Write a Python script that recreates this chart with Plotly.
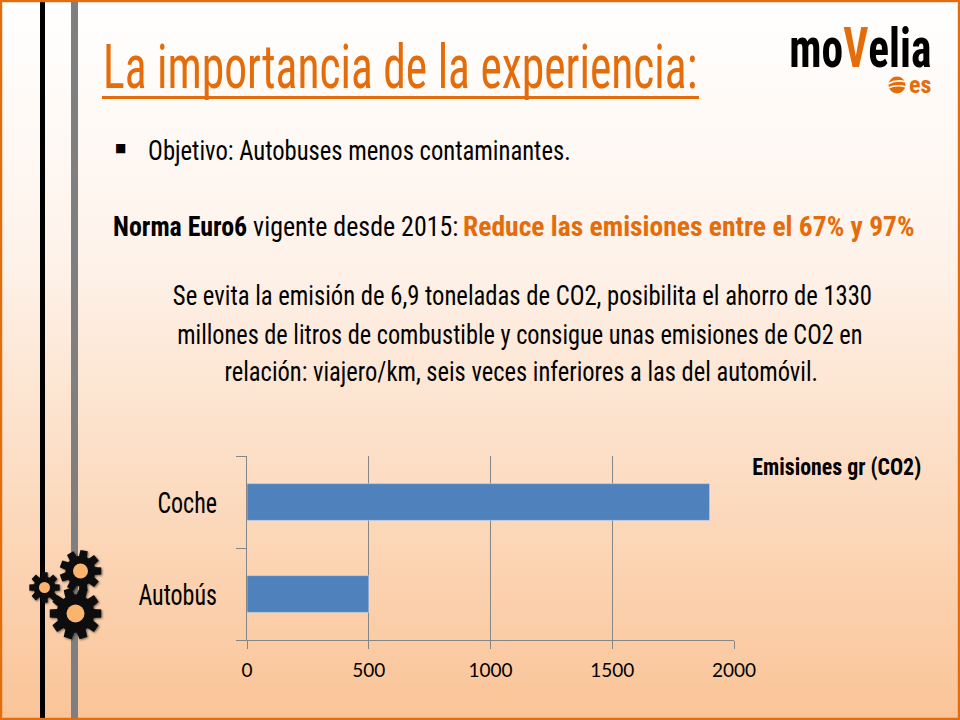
import base64, json, math
import plotly.graph_objects as go

categories = ["Autobús", "Coche"]
values = [500, 1900]
x_ticks = [0, 500, 1000, 1500, 2000]

W, H = 960, 720
L, R, T, B = 247, 734, 456, 640
ORANGE = "#E46C0A"
NARROW = "Roboto Condensed"


def gear(cx, cy, r_out, r_in, hole, teeth):
    pts = []
    step = 2 * math.pi / teeth
    for i in range(teeth):
        a = i * step
        for da, r in ((-0.30, r_in), (-0.19, r_out), (0.19, r_out), (0.30, r_in)):
            t = a + da * step * 1.3
            pts.append(f"{cx + r * math.cos(t):.1f},{cy + r * math.sin(t):.1f}")
    return (f'<polygon points="{" ".join(pts)}" fill="#0a0a0a" filter="url(#s)"/>'
            f'<circle cx="{cx}" cy="{cy}" r="{hole}" fill="#FBB46E"/>')


svg = f'''<svg xmlns="http://www.w3.org/2000/svg" width="{W}" height="{H}" viewBox="0 0 {W} {H}">
<defs><linearGradient id="g" x1="0" y1="0" x2="0" y2="1">
<stop offset="0" stop-color="#FFFFFF"/><stop offset="0.35" stop-color="#FEF3EB"/><stop offset="1" stop-color="#FAC497"/>
</linearGradient>
<filter id="s" x="-20%" y="-20%" width="150%" height="150%"><feDropShadow dx="1" dy="1" stdDeviation="1.2" flood-opacity="0.55"/></filter></defs>
<rect width="{W}" height="{H}" fill="url(#g)"/>
<rect x="40" y="0" width="5" height="{H}" fill="#000"/>
<rect x="71" y="0" width="7" height="{H}" fill="#7F7F7F"/>
{gear(44.5, 587.5, 15.5, 11, 5.5, 8)}{gear(80.5, 571, 21, 15, 7.5, 9)}{gear(75.5, 613.5, 26, 19, 9, 10)}
<circle cx="897" cy="85" r="8.5" fill="{ORANGE}"/>
<path d="M888 84 Q896 79 906 82 M888 88 Q897 84 906 87" stroke="#FFF6EE" stroke-width="1.6" fill="none"/>
<rect x="102" y="96" width="597" height="3" fill="{ORANGE}"/>
<rect x="1" y="1" width="{W-2}" height="{H-2}" fill="none" stroke="{ORANGE}" stroke-width="2.4"/>
</svg>'''
uri = "data:image/svg+xml;base64," + base64.b64encode(svg.encode()).decode()

fig = go.Figure(go.Bar(x=values, y=categories, orientation="h", marker_color="#4F81BD", width=0.4))
PW, PH = R - L, B - T
scales = []


def note(text, x, y, size, color="#000", anchor="center", family=NARROW, sx=1.0):
    scales.append([sx, anchor])
    fig.add_annotation(text=text, x=(x - L) / PW, y=(B - y) / PH, xref="paper", yref="paper",
                       showarrow=False, xanchor=anchor, yanchor="middle", borderpad=0, borderwidth=0,
                       font=dict(family=family, size=size, color=color))


note("La importancia de la experiencia:", 103, 67, 62, ORANGE, "left", sx=0.735)
note("■", 120, 148, 12, "#000", "center", "DejaVu Sans")
note("Objetivo: Autobuses menos contaminantes.", 148, 150, 28, "#000", "left", sx=0.88)
note("<b>Norma Euro6</b> vigente desde 2015:", 113, 227, 27, "#000", "left", sx=0.96)
note("<b>Reduce las emisiones entre el 67% y 97%</b>", 463, 227, 27, ORANGE, "left", sx=1.02)
note("Se evita la emisión de 6,9 toneladas de CO2, posibilita el ahorro de 1330", 522.5, 295, 28, sx=0.88)
note("millones de litros de combustible y consigue unas emisiones de CO2 en", 520, 334, 28, sx=0.868)
note("relación: viajero/km, seis veces inferiores a las del automóvil.", 521, 371, 28, sx=0.875)
note("<b>Emisiones gr (CO2)</b>", 837, 467, 24, sx=0.91)
note(f'<b>mo<span style="color:{ORANGE}">V</span>elia</b>', 860.5, 48, 55, sx=0.79)
note("<b>es</b>", 920, 85, 24, ORANGE)

fig.update_layout(
    width=W, height=H, margin=dict(l=L, r=W - R, t=T, b=H - B),
    paper_bgcolor="rgba(0,0,0,0)", plot_bgcolor="rgba(0,0,0,0)",
    showlegend=False, bargap=0.6,
    images=[dict(source=uri, xref="paper", yref="paper", x=-L / PW, y=1 + T / PH,
                 sizex=W / PW, sizey=H / PH, xanchor="left", yanchor="top",
                 sizing="stretch", layer="below")],
    xaxis=dict(range=[0, 2000], tickvals=x_ticks, showgrid=True, gridcolor="#868686", gridwidth=1,
               showline=True, linecolor="#868686", ticks="outside", ticklen=8, tickcolor="#868686",
               ticklabelstandoff=5, tickfont=dict(family="Lato", size=19, color="#000"), zeroline=False),
    yaxis=dict(categoryorder="array", categoryarray=categories, showline=True, linecolor="#868686",
               ticks="outside", ticklen=10, tickcolor="#868686", tickson="boundaries",
               ticklabelstandoff=23, tickfont=dict(family=NARROW, size=30, color="#000"), showgrid=False),
)

post = """
document.body.style.margin = '0';
var s = %s;
function squeeze(el, sx, anchor) {
  var b = el.getBBox();
  var ox = anchor === 'left' ? b.x : anchor === 'right' ? b.x + b.width : b.x + b.width / 2;
  var t = el.getAttribute('transform') || '';
  el.setAttribute('transform', t + ' translate(' + ox + ',0) scale(' + sx + ',1) translate(' + (-ox) + ',0)');
}
document.querySelectorAll('.annotation-text').forEach(function (el, i) { squeeze(el, s[i][0], s[i][1]); });
document.querySelectorAll('.ytick text').forEach(function (el) { squeeze(el, 0.8, 'right'); });
""" % json.dumps(scales)
fig.write_html("out.html", config=dict(displayModeBar=False), post_script=post)
